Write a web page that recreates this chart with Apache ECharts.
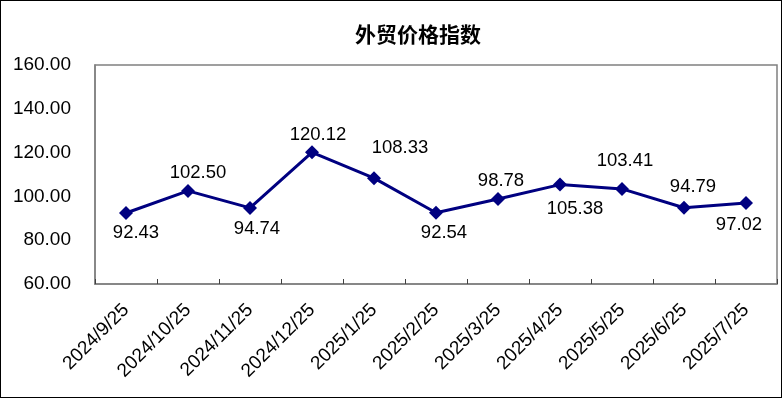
<!DOCTYPE html>
<html>
<head>
<meta charset="utf-8">
<script src="https://cdn.jsdelivr.net/npm/echarts@6/dist/echarts.min.js"></script>
<style>
html,body{margin:0;padding:0;background:#fff;}
#wrap{position:absolute;left:0;top:0;width:780px;height:396px;border:1px solid #000;}
#c{width:780px;height:396px;}
</style>
</head>
<body>
<div id="wrap"><div id="c"></div></div>
<script>
const title = '外贸价格指数';
const categories = ['2024/9/25','2024/10/25','2024/11/25','2024/12/25','2025/1/25','2025/2/25','2025/3/25','2025/4/25','2025/5/25','2025/6/25','2025/7/25'];
const values = [92.43, 102.50, 94.74, 120.12, 108.33, 92.54, 98.78, 105.38, 103.41, 94.79, 97.02];
const yTicks = [60, 80, 100, 120, 140, 160];
// label offsets relative to point centre [dx, dy]
const labelOffsets = [[10,20],[10,-18],[7,21],[6,-17],[26,-30],[8,20],[3,-18],[15,24],[3,-28],[9,-21],[-7,22]];

const chart = echarts.init(document.getElementById('c'), null, {renderer:'canvas'});
const font = "'Liberation Sans', Arial, sans-serif";
chart.setOption({
  backgroundColor: '#fff',
  animation: false,
  title: {
    text: title, left: 412, top: 18, textAlign: 'center',
    textStyle: {fontFamily: "'Noto Sans CJK SC'", fontSize: 21, fontWeight: 'bold', color: '#000'}
  },
  grid: {left: 94, right: 4, top: 64, bottom: 113, show: true, borderColor: '#808080', borderWidth: 1.5, backgroundColor: '#fff'},
  xAxis: {
    type: 'category', data: categories, boundaryGap: true,
    axisLine: {show: true, lineStyle: {color: '#808080', width: 1.5}},
    axisTick: {show: true, inside: true, length: 5, lineStyle: {color: '#404040', width: 1}},
    axisLabel: {rotate: 45, margin: 23, fontFamily: font, fontSize: 19, color: '#000', interval: 0}
  },
  yAxis: {
    type: 'value', min: yTicks[0], max: yTicks[yTicks.length-1], interval: 20,
    splitLine: {show: false},
    axisLine: {show: true, lineStyle: {color: '#808080', width: 1.5}},
    axisTick: {show: false},
    axisLabel: {margin: 24, fontFamily: font, fontSize: 19, color: '#000', formatter: v => v.toFixed(2)}
  },
  series: [{
    type: 'line',
    data: values.map((v,i) => ({value: v, label: {offset: labelOffsets[i]}})),
    symbol: 'diamond', symbolSize: 14,
    lineStyle: {color: '#000080', width: 3},
    itemStyle: {color: '#000080'},
    label: {show: true, position: 'inside', fontFamily: font, fontSize: 18.5, color: '#000', formatter: p => p.value.toFixed(2)}
  }]
});
</script>
</body>
</html>
